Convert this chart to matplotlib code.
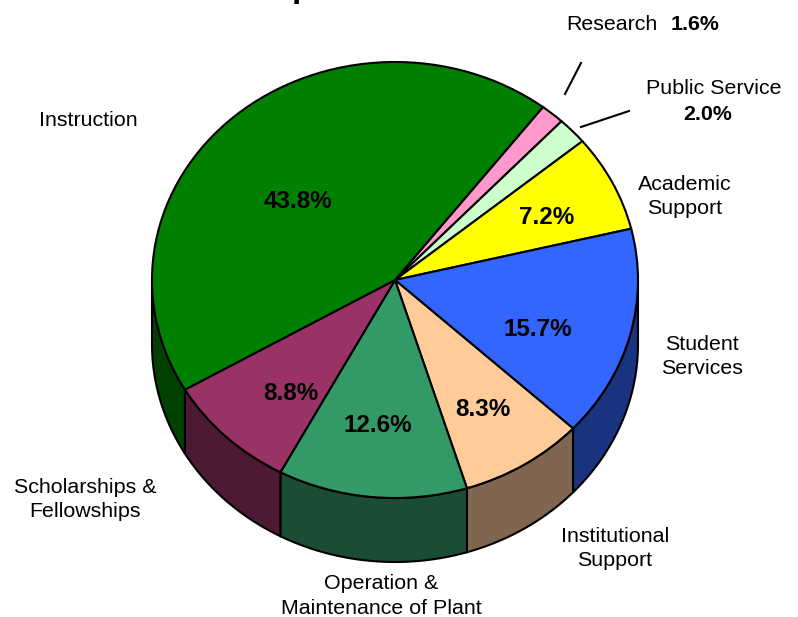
import numpy as np
import matplotlib
matplotlib.use('Agg')
import matplotlib.pyplot as plt

plt.rcParams['font.family'] = ['Liberation Sans', 'DejaVu Sans']

W, H = 798, 617
CX, CY, RX, RY, DEPTH = 395, 280, 243, 218, 64

# clockwise from the Research slice
names = ['Research', 'Public Service', 'Academic Support', 'Student Services',
         'Institutional Support', 'Operation & Maintenance of Plant',
         'Scholarships & Fellowships', 'Instruction']
shares = [1.6, 2.0, 7.2, 15.7, 8.3, 12.6, 8.8, 43.8]
top_colors = ['#FF99CC', '#CCFFCC', '#FFFF00', '#3366FF',
              '#FFCC99', '#339966', '#993366', '#008000']
side_colors = ['#804D66', '#668066', '#808000', '#1A3380',
               '#806650', '#1A4D33', '#4D1A33', '#004000']

fig = plt.figure(figsize=(W / 100, H / 100), dpi=100)

# pie axes: unit circle stretched to the ellipse
ax = fig.add_axes([0, 0, 1, 1])
start = 52.5
wedges, _ = ax.pie(shares, startangle=start, counterclock=False, colors=top_colors,
                   wedgeprops=dict(edgecolor='black', linewidth=1.5, zorder=3))
ax.set_aspect('auto')
ax.set_xlim(-CX / RX, (W - CX) / RX)
ax.set_ylim((CY - H) / RY, CY / RY)

# side wall, only the front half shows
d = DEPTH / RY
for w, col in zip(wedges, side_colors):
    a0, a1 = w.theta1 % 360, w.theta2 % 360
    if a1 <= a0:
        a1 += 360
    lo, hi = max(a0, 180), min(a1, 360)
    if hi <= lo:
        continue
    t = np.radians(np.linspace(lo, hi, 80))
    x = np.cos(t)
    y = np.sin(t)
    ax.fill(np.r_[x, x[::-1]], np.r_[y, y[::-1] - d], facecolor=col,
            edgecolor='black', linewidth=1.5, zorder=2)

# overlay in pixel coordinates for the texts
ov = fig.add_axes([0, 0, 1, 1], facecolor='none')
ov.set_xlim(0, W)
ov.set_ylim(H, 0)
ov.axis('off')

label_text = ['Instruction', 'Research', 'Public Service', 'Academic\nSupport', 'Student\nServices',
              'Institutional\nSupport', 'Operation &\nMaintenance of Plant', 'Scholarships &\nFellowships']
label_x = [88, 612, 714, 685, 702, 615, 381, 85]
label_y = [120, 24, 88, 196.5, 356.5, 548.5, 596, 499.5]
for s, x, y in zip(label_text, label_x, label_y):
    ov.text(x, y, s, ha='center', va='center', fontsize=15.4, linespacing=1.38, color='black')

inside_vals = [43.8, 7.2, 15.7, 8.3, 12.6, 8.8]
inside_x = [298, 547, 538, 483, 378, 291]
inside_y = [201, 218, 330, 410, 426, 394]
for v, x, y in zip(inside_vals, inside_x, inside_y):
    ov.text(x, y, f'{v}%', ha='center', va='center', fontsize=17.5, fontweight='bold')

outside_vals = [1.6, 2.0]
outside_x = [695, 708]
outside_y = [24, 114]
for v, x, y in zip(outside_vals, outside_x, outside_y):
    ov.text(x, y, f'{v}%', ha='center', va='center', fontsize=15.4, fontweight='bold')

# leader lines for the two thin slices
ov.plot([565, 581], [94, 63], color='black', lw=1.5)
ov.plot([581, 629], [127, 111], color='black', lw=1.5)

# title is cropped in the source, only the descender of this letter is left
ov.text(302, -3, 'p', ha='center', va='baseline', fontsize=24, fontweight='bold', clip_on=False)

fig.savefig('out.png', dpi=100)
